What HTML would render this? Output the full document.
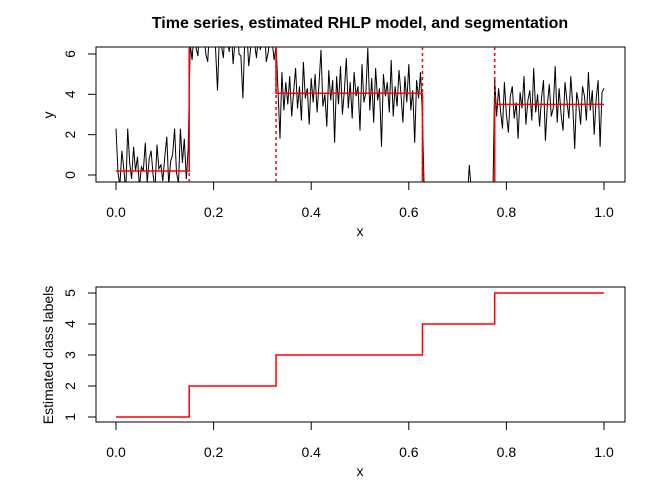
<!DOCTYPE html>
<html><head><meta charset="utf-8"><style>
body{margin:0;background:#fff}
svg{display:block;font-family:"Liberation Sans",Arial,sans-serif}
</style></head><body>
<svg id="c" width="672" height="480" viewBox="0 0 672 480">
<defs>
<clipPath id="clipTop"><rect x="96" y="47" width="529" height="135"/></clipPath>
</defs>
<text x="360" y="28" text-anchor="middle" font-size="16" font-weight="bold">Time series, estimated RHLP model, and segmentation</text>
<g id="topPanel"></g>
<g id="botPanel"></g>
</svg>
<script>
const seg1 = [2.3,0.1,-0.5,1.2,0.3,-0.8,2.3,0.6,-0.2,1.4,0.2,0.9,-0.6,0.4,0.2,1.6,-0.4,0.8,1.2,0.0,-0.7,1.5,0.3,0.5,-0.3,0.9,1.9,-0.5,0.7,1.0,2.3,0.1,-0.4,2.3,0.6,1.8,-0.2,1.3];
const seg2 = [6.5,5.7,7.2,6.3,5.9,8.0,6.8,7.1,6.0,5.6,7.4,6.6,7.9,6.2,4.2,7.0,6.4,5.8,7.5,6.9,6.1,7.3,5.5,6.7,8.1,6.0,5.9,3.8,6.8,7.2,5.4,6.3,7.7,6.5,5.8,7.0,6.2,6.9,7.4,5.6,6.1,7.1,6.6,5.7,6.4];
const seg3 = [4.2,1.8,5.1,3.2,4.6,3.5,4.9,2.9,4.1,5.3,3.3,4.4,2.7,5.6,3.8,4.3,2.5,4.8,3.6,5.0,3.1,4.5,6.2,3.4,4.0,2.4,5.2,3.7,4.7,1.6,4.9,3.5,5.4,3.0,4.2,5.8,3.3,4.6,2.8,5.1,3.9,4.4,2.2,5.5,3.6,4.1,6.3,3.2,4.8,2.6,5.3,3.7,4.3,1.4,5.0,3.9,4.6,3.1,5.7,2.9,4.4,3.4,5.2,4.0,2.6,4.9,3.6,5.5,3.2,4.2,1.6,4.7,3.8,5.1,2.8];
const seg4 = [-1.2,-0.6,-2.0,-0.9,-1.5,-0.4,-1.8,-0.7,-1.1,-2.3,-0.8,-1.4,-0.5,-1.9,-1.0,-0.6,-1.6,-2.1,-0.9,-1.3,-0.4,-1.7,-1.1,0.5,-0.8,-1.5,-0.6,-2.0,-1.2,-0.7,-1.4,-0.9,-1.8,-0.5,-1.1,-1.6];
const seg5 = [4.8,2.9,4.3,3.2,2.3,4.6,3.0,2.1,3.9,4.4,2.8,3.6,1.8,4.1,3.3,4.9,2.5,3.7,4.2,2.7,5.3,3.1,4.0,2.4,3.8,4.7,1.7,3.5,4.5,2.9,3.3,5.4,2.6,4.3,3.0,2.2,4.6,3.7,2.8,4.9,3.4,1.3,4.1,3.6,2.5,4.4,3.9,2.7,5.1,3.2,4.2,2.0,3.8,4.7,1.4,4.1,4.3];
const segMeans = [0.2, 7.0, 4.05, -1.1, 3.5];
const bounds = [0, 0.15, 0.328, 0.628, 0.776, 1.0];
const classLabels = [1,2,3,4,5];
const xTicks = ["0.0","0.2","0.4","0.6","0.8","1.0"];
const yTicksTop = [0,2,4,6];
const yTicksBot = [1,2,3,4,5];

const NS="http://www.w3.org/2000/svg";
function el(tag,attrs,parent,text){const e=document.createElementNS(NS,tag);for(const k in attrs)e.setAttribute(k,attrs[k]);if(text!==undefined)e.textContent=text;parent.appendChild(e);return e;}
const sx=v=>116+488*v;
const syT=v=>175-20.17*v;
const syB=v=>417-31*(v-1);
const topG=document.getElementById('topPanel'), botG=document.getElementById('botPanel');

function axes(g,y0,y1,sy,yt,ylab,yl){
  const b=el('rect',{x:96,y:y0,width:529,height:y1-y0,fill:'none',stroke:'#000','stroke-width':1},g);
  
  
  const xa=el('g',{},g);
  
  
  el('line',{x1:sx(0),x2:sx(1),y1:y1,y2:y1,stroke:'#000'},xa);
  xTicks.forEach((t,i)=>{const v=i*0.2;el('line',{x1:sx(v),x2:sx(v),y1:y1,y2:y1+8,stroke:'#000'},xa);
    const tx=el('text',{x:sx(v),y:y1+35,'text-anchor':'middle','font-size':14},xa,t);
    
    });
  const xl=el('text',{x:360,y:y1+54,'text-anchor':'middle','font-size':14},g,'x');
  
  
  const ya=el('g',{},g);
  
  
  el('line',{x1:96,x2:96,y1:sy(yt[0]),y2:sy(yt[yt.length-1]),stroke:'#000'},ya);
  yt.forEach(v=>{el('line',{x1:88,x2:96,y1:sy(v),y2:sy(v),stroke:'#000'},ya);
    const tx=el('text',{x:0,y:0,'text-anchor':'middle','font-size':14,transform:`translate(75,${sy(v)}) rotate(-90)`},ya,String(v));
    
    });
  const ylb=el('text',{x:0,y:0,'text-anchor':'middle','font-size':14,transform:`translate(53,${yl}) rotate(-90)`},g,ylab);
  
  
}
axes(topG,47,182,syT,yTicksTop,'y',115);
axes(botG,287,422,syB,yTicksBot,'Estimated class labels',355);

const data=[].concat(seg1,seg2,seg3,seg4,seg5);
const n=data.length;
const cg=el('g',{'clip-path':'url(#clipTop)'},topG);
const pts=data.map((v,i)=>sx(i/(n-1)).toFixed(1)+','+syT(v).toFixed(1)).join(' ');
const ts=el('polyline',{points:pts,fill:'none',stroke:'#000','stroke-width':1},cg);


for(let k=1;k<bounds.length-1;k++){
  const d=el('line',{x1:sx(bounds[k]),x2:sx(bounds[k]),y1:47,y2:182,stroke:'#f00','stroke-width':1.5,'stroke-dasharray':'3,3'},cg);
  
  
}
let mp=[];
segMeans.forEach((m,k)=>{mp.push(sx(bounds[k])+','+syT(m));mp.push(sx(bounds[k+1])+','+syT(m));});
const ml=el('polyline',{points:mp.join(' '),fill:'none',stroke:'#f00','stroke-width':1.5},cg);


let cp=[];
classLabels.forEach((c,k)=>{cp.push(sx(bounds[k])+','+syB(c));cp.push(sx(bounds[k+1])+','+syB(c));});
const cl=el('polyline',{points:cp.join(' '),fill:'none',stroke:'#f00','stroke-width':1.5},botG);


</script>
</body></html>
